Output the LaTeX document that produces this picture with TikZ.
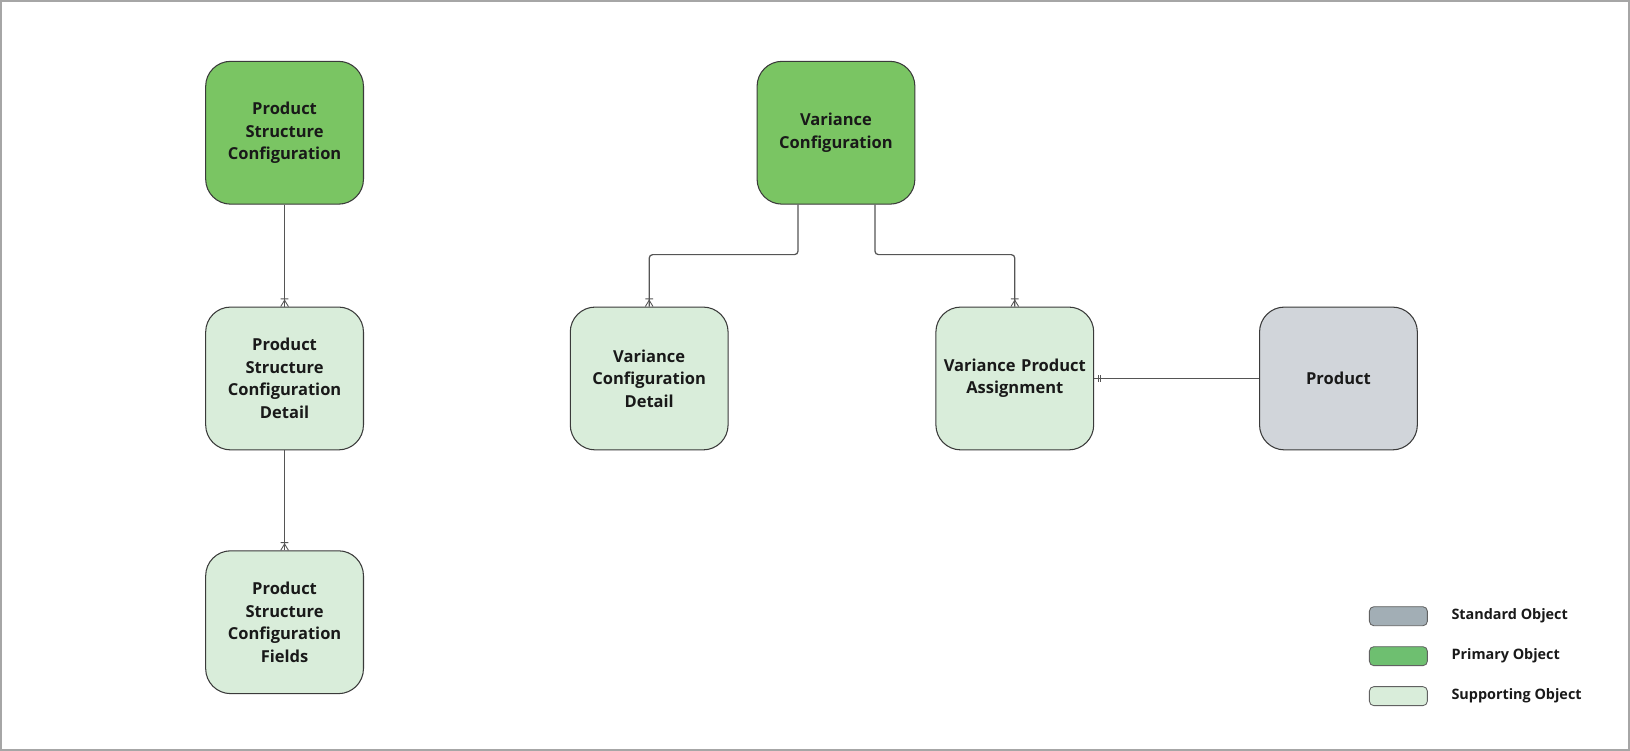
\documentclass[tikz,border=0pt]{standalone}
\usepackage{fontspec}
\setmainfont{Open Sans}[BoldFont={* Bold}]
\usetikzlibrary{calc,decorations.markings}

\definecolor{primarygreen}{HTML}{7AC563}
\definecolor{supportgreen}{HTML}{D9EDDA}
\definecolor{standardgray}{HTML}{D1D5DA}
\definecolor{legendgray}{HTML}{A2AEB5}
\definecolor{legendgreen}{HTML}{6EBF70}
\definecolor{edgegray}{HTML}{3A3A3A}
\definecolor{linkgray}{HTML}{555555}
\definecolor{framegray}{HTML}{A6A6A6}

\tikzset{
  entity/.style={draw=edgegray, line width=0.6pt, rounded corners=0.5cm,
    minimum width=3.16cm, minimum height=2.86cm, align=center,
    text width=2.9cm, font=\fontsize{9.4}{12.8}\selectfont\bfseries, text=black!90},
  primary/.style={entity, fill=primarygreen},
  supporting/.style={entity, fill=supportgreen},
  standard/.style={entity, fill=standardgray},
  swatch/.style={draw=edgegray!80, line width=0.5pt, rounded corners=2.5pt,
    minimum width=1.16cm, minimum height=0.38cm, inner sep=0pt},
  legendtext/.style={anchor=west, font=\fontsize{8.2}{10}\selectfont\bfseries, text=black!90},
  link/.style={draw=linkgray, line width=0.7pt},
  manyend/.style={link, decoration={markings, mark=at position 1 with {
      \draw[linkgray, line width=0.5pt] (-3.6pt,0)--(0,2.2pt) (-3.6pt,0)--(0,-2.2pt)
        (-4.4pt,2.2pt)--(-4.4pt,-2.2pt);}}, postaction=decorate},
  oneend/.style={link, decoration={markings, mark=at position 1 with {
      \draw[linkgray, line width=0.5pt] (-2.2pt,2pt)--(-2.2pt,-2pt)
        (-3.8pt,2pt)--(-3.8pt,-2pt);}}, postaction=decorate}
}

\begin{document}
\begin{tikzpicture}[x=0.02cm, y=-0.02cm]
  % frame
  \draw[framegray, line width=1pt, fill=white] (0,0) rectangle (1630,750);
  \useasboundingbox (0,0) rectangle (1630,750);

  % entities
  \node[primary] (psc) at (284,132) {Product\\Structure\\Configuration};
  \node[supporting] (pscd) at (284,378) {Product\\Structure\\Configuration\\Detail};
  \node[supporting] (pscf) at (284,622) {Product\\Structure\\Configuration\\Fields};

  \node[primary] (vc) at (836,132) {Variance\\Configuration};
  \node[supporting] (vcd) at (649,378) {Variance\\Configuration\\Detail};
  \node[supporting] (vpa) at (1015,378) {Variance Product\\Assignment};
  \node[standard] (prod) at (1339,378) {Product};

  % relations
  \draw[manyend] (psc.south) -- (pscd.north);
  \draw[manyend] (pscd.south) -- (pscf.north);
  \draw[manyend, rounded corners=2pt] ([xshift=-0.76cm]vc.south) -- ++(0,50) -| (vcd.north);
  \draw[manyend, rounded corners=2pt] ([xshift=0.78cm]vc.south) -- ++(0,50) -| (vpa.north);
  \draw[oneend] (prod.west) -- (vpa.east);

  % legend
  \node[swatch, fill=legendgray] (lstd) at (1399,616) {};
  \node[swatch, fill=legendgreen] (lpri) at (1399,656) {};
  \node[swatch, fill=supportgreen] (lsup) at (1399,696) {};
  \node[legendtext] at (1446,616) {Standard Object};
  \node[legendtext] at (1446,656) {Primary Object};
  \node[legendtext] at (1446,696) {Supporting Object};
\end{tikzpicture}
\end{document}
